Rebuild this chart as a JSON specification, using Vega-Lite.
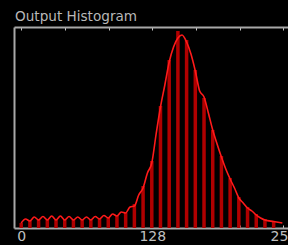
{
  "$schema": "https://vega.github.io/schema/vega-lite/v6.json",
  "width": 274,
  "height": 201,
  "autosize": {"type": "none"},
  "padding": {"left": 14, "top": 27, "right": 0, "bottom": 17},
  "background": "#000000",
  "config": {
    "view": {"stroke": null},
    "axis": {"grid": false, "title": null, "domainColor": "#a8a8a8", "domainWidth": 2, "tickColor": "#c8c8c8", "labelColor": "#c0c0c0", "labelFont": "DejaVu Sans", "labelFontSize": 14}
  },
  "title": {"text": "Output Histogram", "anchor": "start", "frame": "group", "color": "#b8b8b8", "fontSize": 13.6, "font": "DejaVu Sans", "fontWeight": "normal", "offset": 5, "baseline": "alphabetic", "dx": 1, "dy": 13},
  "datasets": {
    "envelope": [
      {"level": 0, "count": 5}, {"level": 4.25, "count": 9}, {"level": 8.5, "count": 7}, {"level": 12.75, "count": 11},
      {"level": 17, "count": 8}, {"level": 21.25, "count": 11.5}, {"level": 25.5, "count": 8}, {"level": 29.75, "count": 12},
      {"level": 34, "count": 8}, {"level": 38.25, "count": 12}, {"level": 42.5, "count": 8}, {"level": 46.75, "count": 11.5},
      {"level": 51, "count": 8}, {"level": 55.25, "count": 11}, {"level": 59.5, "count": 8}, {"level": 63.75, "count": 11},
      {"level": 68, "count": 8}, {"level": 72.25, "count": 11.5}, {"level": 76.5, "count": 9}, {"level": 80.75, "count": 12.5},
      {"level": 85, "count": 10}, {"level": 89.25, "count": 14}, {"level": 93.5, "count": 12}, {"level": 97.75, "count": 16},
      {"level": 102, "count": 15}, {"level": 106.25, "count": 21}, {"level": 110.5, "count": 22}, {"level": 114.75, "count": 33},
      {"level": 119, "count": 40}, {"level": 123.25, "count": 55}, {"level": 127.5, "count": 65}, {"level": 131.75, "count": 94},
      {"level": 136, "count": 121}, {"level": 140.25, "count": 143}, {"level": 144.5, "count": 166}, {"level": 148.75, "count": 181},
      {"level": 153, "count": 190}, {"level": 157, "count": 193}, {"level": 161.5, "count": 186}, {"level": 165.75, "count": 174},
      {"level": 170, "count": 157}, {"level": 174.25, "count": 137}, {"level": 178.5, "count": 131}, {"level": 182.75, "count": 115},
      {"level": 187, "count": 98}, {"level": 191.25, "count": 84}, {"level": 195.5, "count": 71}, {"level": 199.75, "count": 59},
      {"level": 204, "count": 49}, {"level": 208.25, "count": 40}, {"level": 212.5, "count": 30}, {"level": 216.75, "count": 25},
      {"level": 221, "count": 20}, {"level": 225.25, "count": 17}, {"level": 229.5, "count": 13}, {"level": 233.75, "count": 10},
      {"level": 238, "count": 8}, {"level": 246.5, "count": 6.5}, {"level": 255, "count": 5}
    ],
    "spikes": [
      {"level": 0, "count": 5}, {"level": 8.5, "count": 7}, {"level": 17, "count": 8}, {"level": 25.5, "count": 8},
      {"level": 34, "count": 8}, {"level": 42.5, "count": 8}, {"level": 51, "count": 8}, {"level": 59.5, "count": 8},
      {"level": 68, "count": 8}, {"level": 76.5, "count": 9}, {"level": 85, "count": 10}, {"level": 93.5, "count": 12},
      {"level": 102, "count": 15}, {"level": 110.5, "count": 24}, {"level": 119, "count": 42}, {"level": 127.5, "count": 67},
      {"level": 136, "count": 122}, {"level": 144.5, "count": 168}, {"level": 153, "count": 197}, {"level": 161.5, "count": 188},
      {"level": 170, "count": 158}, {"level": 178.5, "count": 130}, {"level": 187, "count": 98}, {"level": 195.5, "count": 72},
      {"level": 204, "count": 50}, {"level": 212.5, "count": 31}, {"level": 221, "count": 21}, {"level": 229.5, "count": 14},
      {"level": 238, "count": 9}, {"level": 246.5, "count": 7}
    ]
  },
  "layer": [
    {
      "data": {"name": "spikes"},
      "mark": {"type": "rule", "color": "#b00000", "strokeWidth": 3.5},
      "encoding": {
        "x": {"field": "level", "type": "quantitative", "scale": {"domain": [-7.03, 260.5], "nice": false, "zero": false},
              "axis": {"orient": "bottom", "values": [0, 42.6667, 85.3333, 128, 170.6667, 213.3333, 256], "tickSize": -3, "labelPadding": 4,
                       "labelExpr": "datum.value == 0 || datum.value == 128 || datum.value == 256 ? format(datum.value, 'd') : ''", "labelFlush": false, "labelOverlap": false}},
        "y": {"field": "count", "type": "quantitative", "scale": {"domain": [0, 201], "nice": false},
              "axis": {"orient": "left", "ticks": false, "labels": false}},
        "y2": {"datum": 0}
      }
    },
    {
      "data": {"name": "envelope"},
      "mark": {"type": "line", "color": "#ff1a1a", "strokeWidth": 1.6, "interpolate": "monotone"},
      "encoding": {
        "x": {"field": "level", "type": "quantitative",
              "axis": {"orient": "top", "values": [0, 42.6667, 85.3333, 128, 170.6667, 213.3333, 256], "tickSize": -3, "labels": false}},
        "y": {"field": "count", "type": "quantitative"}
      }
    }
  ],
  "resolve": {"axis": {"x": "independent"}}
}
